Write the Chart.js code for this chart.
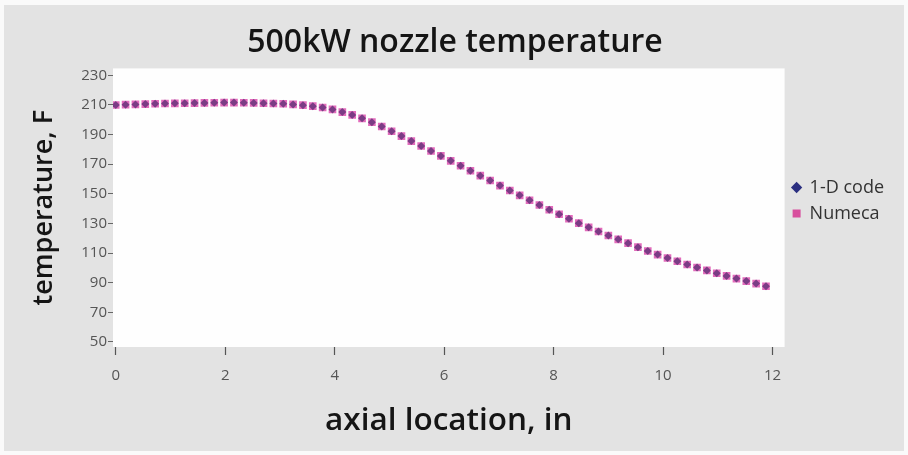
<!DOCTYPE html>
<html>
<head>
<meta charset="utf-8">
<script src="https://cdn.jsdelivr.net/npm/chart.js@4"></script>
<style>
  html, body { margin: 0; padding: 0; background: #ffffff; }
  #wrap { width: 908px; height: 455px; }
</style>
</head>
<body>
<div id="wrap"><canvas id="grafico" width="908" height="455"></canvas></div>
<script>
// axial location (in) of each station
const axialIn = [
  0.00, 0.18, 0.36, 0.54, 0.72, 0.90, 1.08, 1.26, 1.44, 1.62,
  1.80, 1.98, 2.16, 2.34, 2.52, 2.70, 2.88, 3.06, 3.24, 3.42,
  3.60, 3.78, 3.96, 4.14, 4.32, 4.50, 4.68, 4.86, 5.04, 5.22,
  5.40, 5.58, 5.76, 5.94, 6.12, 6.30, 6.48, 6.66, 6.84, 7.02,
  7.20, 7.38, 7.56, 7.74, 7.92, 8.10, 8.28, 8.46, 8.64, 8.82,
  9.00, 9.18, 9.36, 9.54, 9.72, 9.90, 10.08, 10.26, 10.44, 10.62,
  10.80, 10.98, 11.16, 11.34, 11.52, 11.70, 11.88
];

// temperature (F), 1-D code
const temp1D = [
  210.0, 210.2, 210.4, 210.6, 210.8, 211.0, 211.1, 211.2, 211.3, 211.4,
  211.5, 211.6, 211.6, 211.5, 211.4, 211.2, 211.0, 210.8, 210.4, 209.9,
  209.2, 208.3, 207.0, 205.2, 203.3, 201.0, 198.4, 195.5, 192.3, 189.0,
  185.6, 182.3, 178.9, 175.6, 172.3, 169.0, 165.6, 162.3, 159.0, 155.6,
  152.3, 149.0, 145.7, 142.5, 139.3, 136.2, 133.2, 130.2, 127.4, 124.6,
  121.9, 119.3, 116.7, 114.0, 111.4, 109.0, 106.7, 104.5, 102.3, 100.3,
  98.3, 96.4, 94.6, 92.8, 91.1, 89.4, 87.6
];

// temperature (F), Numeca - sits right on top of the 1-D code points
const tempNumeca = [
  210.0, 210.2, 210.4, 210.6, 210.8, 211.0, 211.1, 211.2, 211.3, 211.4,
  211.5, 211.6, 211.6, 211.5, 211.4, 211.2, 211.0, 210.8, 210.4, 209.9,
  209.2, 208.3, 207.0, 205.2, 203.3, 201.0, 198.4, 195.5, 192.3, 189.0,
  185.6, 182.3, 178.9, 175.6, 172.3, 169.0, 165.6, 162.3, 159.0, 155.6,
  152.3, 149.0, 145.7, 142.5, 139.3, 136.2, 133.2, 130.2, 127.4, 124.6,
  121.9, 119.3, 116.7, 114.0, 111.4, 109.0, 106.7, 104.5, 102.3, 100.3,
  98.3, 96.4, 94.6, 92.8, 91.1, 89.4, 87.6
];

const xTicks = [0, 2, 4, 6, 8, 10, 12];
const yTicks = [50, 70, 90, 110, 130, 150, 170, 190, 210, 230];
const seriesNames = ["1-D code", "Numeca"];
const legendColors = ["#2b2f80", "#d8509e"];

const tickFont = { family: "'Liberation Sans Narrow', 'Open Sans', sans-serif", size: 15 };
const titleFamily = "'Open Sans', 'Noto Sans', sans-serif";

// gray card with a white plot area
const fondo = {
  id: "fondo",
  afterLayout(chart) {
    // legend sits a bit above the middle of the plot
    if (chart.legend) {
      chart.legend.top -= 27;
      chart.legend.bottom -= 27;
    }
  },
  beforeDraw(chart) {
    const { ctx, chartArea } = chart;
    ctx.save();
    ctx.fillStyle = "#fafafa";
    ctx.fillRect(0, 0, chart.width, chart.height);
    ctx.fillStyle = "#e3e3e3";
    ctx.fillRect(4, 5, chart.width - 8, chart.height - 9);
    ctx.fillStyle = "#fefefe";
    ctx.fillRect(chartArea.left, chartArea.top, chartArea.right - chartArea.left, chartArea.bottom - chartArea.top);
    ctx.restore();
  }
};

const ctx = document.getElementById("grafico").getContext("2d");
new Chart(ctx, {
  type: "scatter",
  data: {
    datasets: [
      {
        label: seriesNames[0],
        data: axialIn.map((x, i) => ({ x: x, y: temp1D[i] })),
        pointStyle: "rectRot",
        pointRadius: 4,
        backgroundColor: "rgba(80,40,110,0.7)",
        borderColor: "rgba(80,40,110,0.0)",
        borderWidth: 0,
      },
      {
        label: seriesNames[1],
        data: axialIn.map((x, i) => ({ x: x, y: tempNumeca[i] })),
        pointStyle: "rect",
        pointRadius: 5.4,
        backgroundColor: "#e26bbb",
        borderColor: "#e26bbb",
        borderWidth: 0,
      },
    ],
  },
  options: {
    responsive: false,
    animation: false,
    layout: { padding: { left: 16, right: 14 } },
    plugins: {
      title: {
        display: true,
        text: "500kW nozzle temperature",
        color: "#151515",
        font: { family: titleFamily, size: 32, weight: "600" },
        padding: { top: 24, bottom: 6 },
      },
      legend: {
        position: "right",
        labels: {
          usePointStyle: true,
          boxWidth: 8,
          boxHeight: 8,
          padding: 8,
          color: "#333",
          font: { family: tickFont.family, size: 18 },
          generateLabels: (chart) => {
            const items = Chart.defaults.plugins.legend.labels.generateLabels(chart);
            items.forEach((it, i) => {
              it.fillStyle = legendColors[i];
              it.strokeStyle = legendColors[i];
              it.lineWidth = 0;
            });
            return items;
          },
        },
      },
      tooltip: { enabled: false },
    },
    scales: {
      x: {
        type: "linear",
        min: -0.05,
        max: 12.22,
        afterBuildTicks: (scale) => { scale.ticks = xTicks.map((v) => ({ value: v })); },
        afterFit: (scale) => { scale.height = 108; },
        border: { display: false },
        grid: { drawOnChartArea: false, drawTicks: true, tickLength: 8, color: "#555", tickWidth: 1.2 },
        ticks: { color: "#555", font: tickFont, padding: 12, maxRotation: 0 },
        title: {
          display: true,
          text: "axial location, in",
          color: "#151515",
          font: { family: titleFamily, size: 31.5, weight: "600" },
          padding: { top: 0, bottom: 15 },
        },
      },
      y: {
        min: 46.6,
        max: 234.7,
        afterBuildTicks: (scale) => { scale.ticks = yTicks.map((v) => ({ value: v })); },
        afterFit: (scale) => { scale.width = 97; },
        border: { display: false },
        grid: { drawOnChartArea: false, drawTicks: true, tickLength: 5, color: "#666", tickWidth: 1 },
        ticks: { color: "#555", font: tickFont, padding: 1 },
        title: {
          display: true,
          text: "temperature, F",
          color: "#151515",
          font: { family: titleFamily, size: 27, weight: "600" },
          padding: { top: 12, bottom: 0 },
        },
      },
    },
  },
  plugins: [fondo],
});
</script>
</body>
</html>
